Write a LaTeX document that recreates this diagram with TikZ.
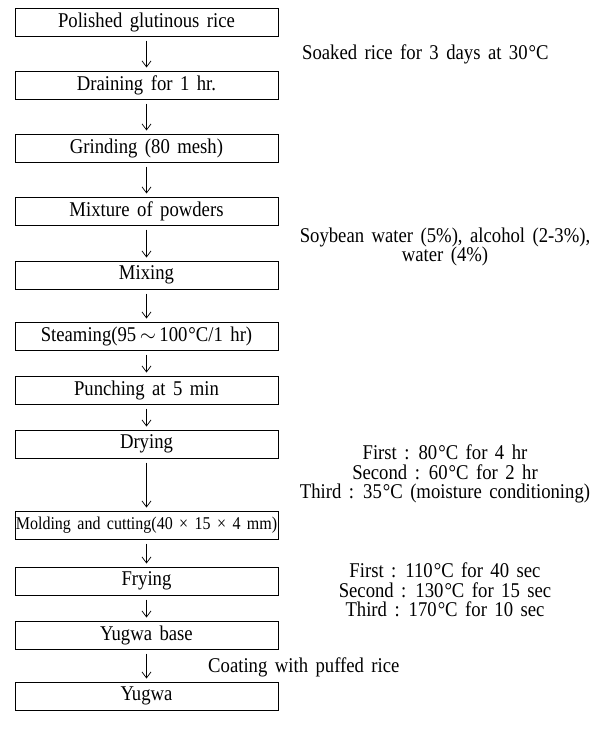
\documentclass[tikz,border=0pt]{standalone}
\usepackage{fontspec}
\setmainfont{Liberation Serif}[FakeStretch=0.89,WordSpace=1.6]
\usetikzlibrary{arrows.meta}
\newcommand{\degc}{\kern1pt°C}
\newcommand{\wave}{\,$\sim$\,}
\tikzset{
  stage/.style={draw, line width=1pt, minimum width=263pt, minimum height=28pt, inner sep=0pt},
  flow/.style={-{Straight Barb[length=6pt,width=9pt]}, line width=0.7pt, shorten <=4pt, shorten >=3pt},
  note/.style={align=center, inner sep=0pt}
}
\begin{document}
\begin{tikzpicture}[x=1pt, y=-1pt, font=\fontsize{21}{19.5}\selectfont]
\useasboundingbox (0,0) rectangle (602,736);
% process boxes
\node[stage] (rice) at (146.5,22) {Polished glutinous rice};
\node[stage] (drain) at (146.5,85) {Draining for 1 hr.};
\node[stage] (grind) at (146.5,148) {Grinding (80 mesh)};
\node[stage] (powder) at (146.5,211) {Mixture of powders};
\node[stage] (mix) at (146.5,275) {Mixing};
\node[stage] (steam) at (146.5,336) {Steaming(95\wave100\degc/1 hr)};
\node[stage] (punch) at (146.5,390) {Punching at 5 min};
\node[stage] (dry) at (146.5,444) {Drying};
\node[stage] (mold) at (146.5,525) {\fontsize{18}{20}\selectfont Molding and cutting(40 × 15 × 4 mm)};
\node[stage] (fry) at (146.5,581) {Frying};
\node[stage] (base) at (146.5,635) {Yugwa base};
\node[stage] (yugwa) at (146.5,696) {Yugwa};
% arrows
\draw[flow] (rice) -- (drain);
\draw[flow] (drain) -- (grind);
\draw[flow] (grind) -- (powder);
\draw[flow] (powder) -- (mix);
\draw[flow] (mix) -- (steam);
\draw[flow] (steam) -- (punch);
\draw[flow] (punch) -- (dry);
\draw[flow] (dry) -- (mold);
\draw[flow] (mold) -- (fry);
\draw[flow] (fry) -- (base);
\draw[flow] (base) -- (yugwa);
% conditions
\node[note, anchor=west] (soak) at (302,54) {Soaked rice for 3 days at 30\degc};
\node[note] (add) at (445,247) {Soybean water (5\%), alcohol (2-3\%),\\water (4\%)};
\node[note] (drynote) at (445,474) {First : 80\degc\ for 4 hr\\Second : 60\degc\ for 2 hr\\Third : 35\degc\ (moisture conditioning)};
\node[note] (frynote) at (445,590) {First : 110\degc\ for 40 sec\\Second : 130\degc\ for 15 sec\\Third : 170\degc\ for 10 sec};
\node[note, anchor=west] (coat) at (208,667) {Coating with puffed rice};
\end{tikzpicture}
\end{document}
